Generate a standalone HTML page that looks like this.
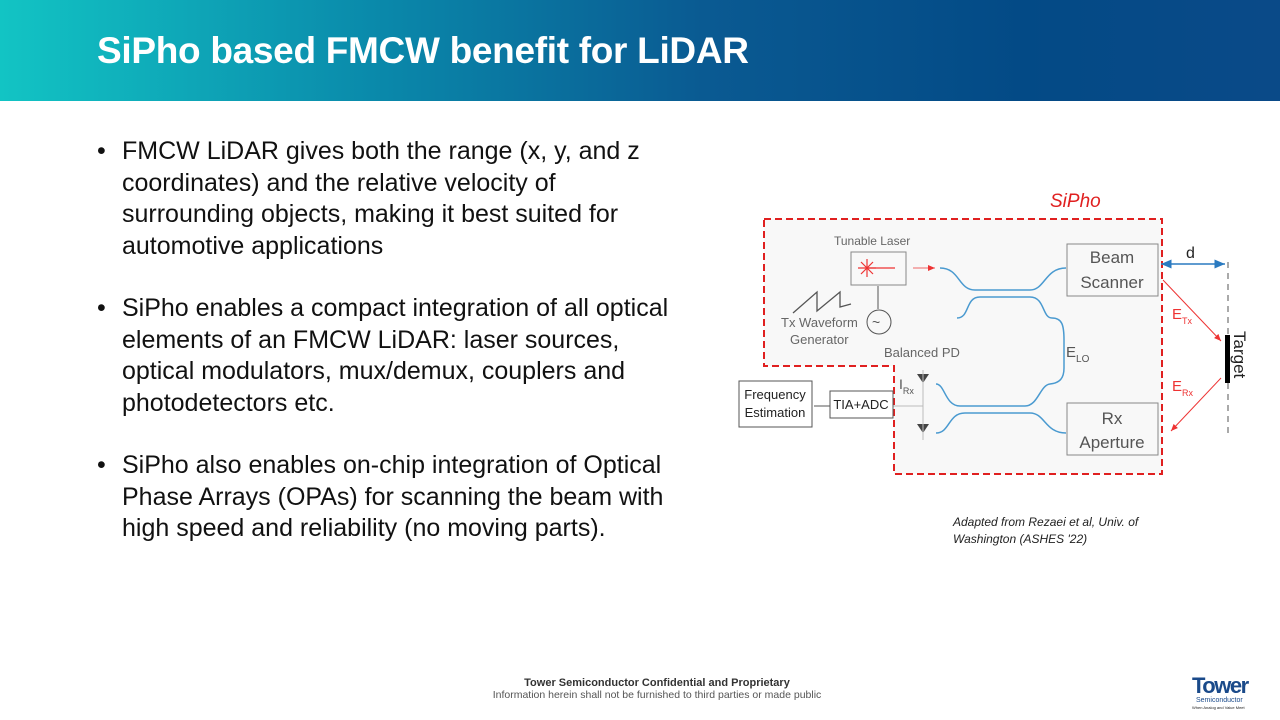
<!DOCTYPE html>
<html><head><meta charset="utf-8"><style>
body{margin:0;width:1280px;height:720px;position:relative;background:#fff;font-family:"Liberation Sans",sans-serif;overflow:hidden}
.hdr{position:absolute;left:0;top:0;width:1280px;height:101px;background:linear-gradient(90deg,#12c4c4 0%,#0a88aa 30%,#0a5a92 55%,#034a86 80%,#0a4a88 100%)}
.hdr h1{position:absolute;left:97px;top:30px;margin:0;color:#fff;font-size:37px;font-weight:bold;letter-spacing:-0.3px}
ul{position:absolute;left:97px;top:136px;margin:0;padding:0;list-style:none;width:680px}
li{position:relative;padding-left:25px;font-size:25px;line-height:31.5px;color:#111;margin-bottom:31px;white-space:nowrap}
li:before{content:"•";position:absolute;left:0;top:0}
.ft{position:absolute;width:1280px;left:17px;text-align:center;top:677px;font-size:11px;color:#333}
</style></head><body>
<div class="hdr"><h1>SiPho based FMCW benefit for LiDAR</h1></div>
<ul>
<li>FMCW LiDAR gives both the range (x, y, and z<br>coordinates) and the relative velocity of<br>surrounding objects, making it best suited for<br>automotive applications</li>
<li>SiPho enables a compact integration of all optical<br>elements of an FMCW LiDAR: laser sources,<br>optical modulators, mux/demux, couplers and<br>photodetectors etc.</li>
<li>SiPho also enables on-chip integration of Optical<br>Phase Arrays (OPAs) for scanning the beam with<br>high speed and reliability (no moving parts).</li>
</ul>
<svg width="1280" height="720" style="position:absolute;left:0;top:0" font-family="Liberation Sans, sans-serif">
<defs>
<marker id="ar" markerWidth="8" markerHeight="8" refX="7" refY="4" orient="auto"><path d="M0,1 L7,4 L0,7z" fill="#e33"/></marker>
<marker id="ab" markerWidth="8" markerHeight="8" refX="7" refY="4" orient="auto-start-reverse"><path d="M0,1 L7,4 L0,7z" fill="#2a7ac0"/></marker>
</defs>
<path d="M764,219 H1162 V474 H894 V366 H764 Z" fill="#f8f8f8" stroke="#e02020" stroke-width="2" stroke-dasharray="7,4"/>
<text x="1050" y="207" fill="#e02020" font-size="19" font-style="italic">SiPho</text>
<text x="834" y="245" fill="#666" font-size="12">Tunable Laser</text>
<rect x="851" y="252" width="55" height="33" fill="none" stroke="#888"/>
<g stroke="#e33" stroke-width="1.2"><line x1="858" y1="268" x2="876" y2="268"/><line x1="867" y1="259" x2="867" y2="277"/><line x1="861" y1="262" x2="873" y2="274"/><line x1="873" y1="262" x2="861" y2="274"/><line x1="867" y1="268" x2="895" y2="268"/></g>
<line x1="913" y1="268" x2="935" y2="268" stroke="#e66" marker-end="url(#ar)"/>
<line x1="878" y1="286" x2="878" y2="309" stroke="#555"/>
<circle cx="879" cy="322" r="12" fill="none" stroke="#555"/>
<text x="872" y="327" font-size="14" fill="#555">~</text>
<path d="M793,313 L817,292 L817,311 L840,292 L840,307 L851,304" fill="none" stroke="#555" stroke-width="1.3"/>
<text x="781" y="327" font-size="13" fill="#666">Tx Waveform</text>
<text x="790" y="344" font-size="13" fill="#666">Generator</text>
<text x="884" y="357" font-size="13" fill="#666">Balanced PD</text>
<g fill="none" stroke="#4a9ad0" stroke-width="1.5">
<path d="M940,268 C960,268 958,290 975,290 H1030 C1045,290 1045,268 1066,268"/>
<path d="M957,318 C970,318 965,297 980,297 H1030 C1045,297 1042,318 1052,318 C1062,318 1064,325 1064,340 V368 C1064,378 1060,383 1050,384 C1040,385 1038,406 1025,406 H960 C945,406 945,384 936,384"/>
<path d="M936,433 C950,433 948,413 965,413 H1030 C1045,413 1045,433 1066,433"/>
</g>
<rect x="1067" y="244" width="91" height="52" fill="none" stroke="#888"/>
<text x="1112" y="263" font-size="17" fill="#555" text-anchor="middle">Beam</text>
<text x="1112" y="288" font-size="17" fill="#555" text-anchor="middle">Scanner</text>
<rect x="1067" y="403" width="91" height="52" fill="none" stroke="#888"/>
<text x="1112" y="424" font-size="17" fill="#555" text-anchor="middle">Rx</text>
<text x="1112" y="448" font-size="17" fill="#555" text-anchor="middle">Aperture</text>
<text x="1066" y="357" font-size="15" fill="#555">E<tspan font-size="10" dy="5">LO</tspan></text>
<line x1="1161" y1="264" x2="1225" y2="264" stroke="#2a7ac0" stroke-width="1.5" marker-end="url(#ab)" marker-start="url(#ab)"/>
<text x="1186" y="258" font-size="16" fill="#222">d</text>
<line x1="1228" y1="262" x2="1228" y2="435" stroke="#555" stroke-dasharray="6,5"/>
<rect x="1225" y="335" width="5" height="48" fill="#000"/>
<text transform="translate(1234,331) rotate(90)" font-size="17" fill="#222">Target</text>
<line x1="1163" y1="280" x2="1221" y2="341" stroke="#e33" marker-end="url(#ar)"/>
<line x1="1221" y1="378" x2="1171" y2="431" stroke="#e33" marker-end="url(#ar)"/>
<text x="1172" y="319" font-size="15" fill="#e33">E<tspan font-size="9" dy="5">Tx</tspan></text>
<text x="1172" y="391" font-size="15" fill="#e33">E<tspan font-size="9" dy="5">Rx</tspan></text>
<g fill="#444"><path d="M917,374 L929,374 L923,383z"/><path d="M917,424 L929,424 L923,433z"/></g>
<line x1="923" y1="370" x2="923" y2="440" stroke="#bbb"/>
<line x1="893" y1="406" x2="923" y2="406" stroke="#bbb"/>
<text x="899" y="389" font-size="14" fill="#555">I<tspan font-size="9" dy="5">Rx</tspan></text>
<rect x="830" y="391" width="63" height="27" fill="#fff" stroke="#555"/>
<text x="861" y="409" font-size="13" fill="#222" text-anchor="middle">TIA+ADC</text>
<line x1="830" y1="406" x2="814" y2="406" stroke="#555"/>
<rect x="739" y="381" width="73" height="46" fill="#fff" stroke="#555"/>
<text x="775" y="399" font-size="13" fill="#222" text-anchor="middle">Frequency</text>
<text x="775" y="417" font-size="13" fill="#222" text-anchor="middle">Estimation</text>
<text x="953" y="526" font-size="12" font-style="italic" fill="#222">Adapted from Rezaei et al, Univ. of</text>
<text x="953" y="543" font-size="12" font-style="italic" fill="#222">Washington (ASHES '22)</text>
<text x="1192" y="693" font-size="22" font-weight="bold" fill="#1a4a8a" letter-spacing="-1.5">Tower</text>
<text x="1196" y="702" font-size="7" fill="#1a4a8a">Semiconductor</text>
<text x="1192" y="709" font-size="4" fill="#222">When Analog and Value Meet</text>
</svg>
<div class="ft"><b>Tower Semiconductor Confidential and Proprietary</b><br><span style="color:#555;font-size:10.5px">Information herein shall not be furnished to third parties or made public</span></div>
</body></html>
